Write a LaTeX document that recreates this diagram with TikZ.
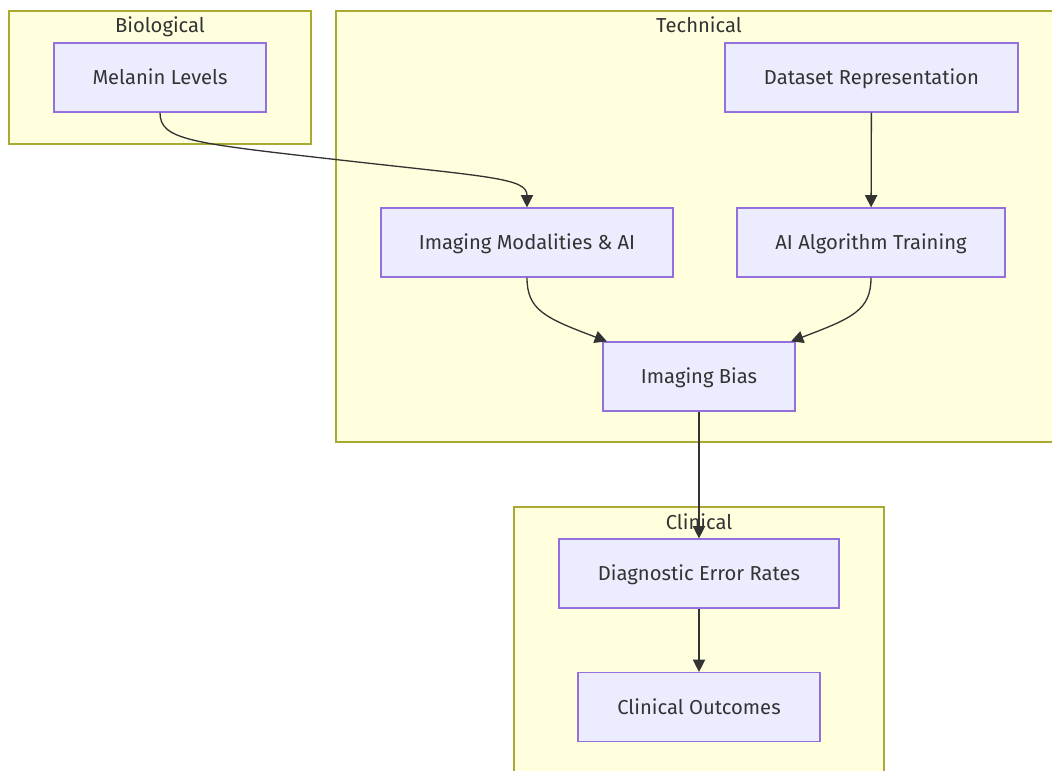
\documentclass[tikz,border=0pt]{standalone}
\usepackage{fontspec}
\setmainfont{Fira Sans}
\usepackage{tikz}
\usetikzlibrary{arrows.meta}

\definecolor{clusterfill}{HTML}{FFFFDE}
\definecolor{clusterdraw}{HTML}{AAAA33}
\definecolor{boxfill}{HTML}{ECECFF}
\definecolor{boxdraw}{HTML}{9370DB}
\definecolor{ink}{HTML}{333333}

\begin{document}
\begin{tikzpicture}
		[x=0.02cm,y=-0.02cm,
		font=\fontsize{11.5}{13}\selectfont,
		cluster/.style= {draw=clusterdraw,fill=clusterfill,line width=0.7pt},
		clabel/.style= {text=ink,inner sep=0pt,text height=1em,text depth=0.18em},
		factor/.style= {draw=boxdraw,fill=boxfill,line width=0.7pt,text=ink,minimum height=1.38cm,inner sep=0pt,text height=1em,text depth=0.18em},
		link/.style={draw=ink,line width=0.75pt,-{Triangle[length=7pt,width=7pt]}}]

		\useasboundingbox (0,0) rectangle (1052,771);
		\clip (0,0) rectangle (1052,771);

		% subgraphs
		\draw[cluster] (9,11) rectangle (311,144);
		\draw[cluster] (336,11) rectangle (1070,442);
		\draw[cluster] (514,507) rectangle (884,790);
		\node[clabel] (bio) at (160,25) {Biological};
		\node[clabel] (tech) at (699,25) {Technical};
		\node[clabel] (clin) at (699,522) {Clinical};

		% factors
		\node[factor,minimum width=4.24cm] (mel) at (160,77.5) {Melanin Levels};
		\node[factor,minimum width=5.86cm] (data) at (871.5,77.5) {Dataset Representation};
		\node[factor,minimum width=5.84cm] (mod) at (527,242.5) {Imaging Modalities \& AI};
		\node[factor,minimum width=5.36cm] (train) at (871,242.5) {AI Algorithm Training};
		\node[factor,minimum width=3.84cm] (bias) at (699,376.5) {Imaging Bias};
		\node[factor,minimum width=5.6cm] (err) at (699,573.5) {Diagnostic Error Rates};
		\node[factor,minimum width=4.84cm] (out) at (699,707) {Clinical Outcomes};

		% links
		\draw[link] (mel.south) .. controls (160,140) and (190,143) .. (340,160)
			.. controls (490,177) and (527,178) .. (mod.north);
		\draw[link] (data) -- (train);
		\draw[link] (mod.south) .. controls (527,310) and (545,318) .. (bias.north west -| 607,342);
		\draw[link] (train.south) .. controls (871,310) and (853,318) .. (bias.north east -| 791,342);
		\draw[link] (bias) -- (err);
		\draw[link] (err) -- (out);
	\end{tikzpicture}
\end{document}
